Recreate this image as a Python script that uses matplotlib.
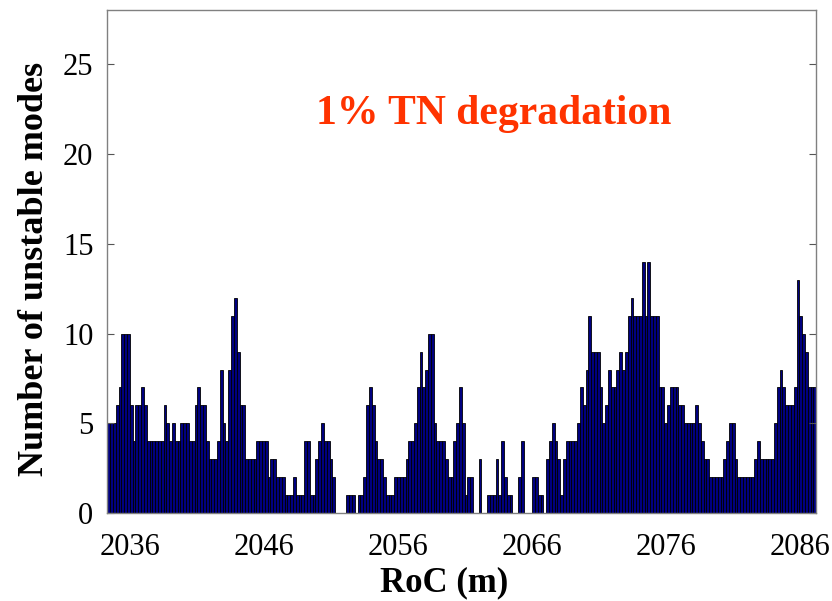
import numpy as np
import matplotlib
matplotlib.use("Agg")
import matplotlib.pyplot as plt

matplotlib.rcParams['font.family'] = ['Liberation Serif', 'DejaVu Serif']

# number of unstable modes for each RoC step (1% TN degradation)
modes = [
    5, 5, 5, 6, 7, 10, 10, 10, 6, 4, 6, 6, 7, 6, 4, 4, 4, 4, 4, 4, 6, 5, 4, 5, 4, 4, 5, 5, 5, 4, 4, 6, 7,
    6, 6, 4, 3, 3, 3, 4, 8, 5, 4, 8, 11, 12, 9, 6, 6, 3, 3, 3, 3, 4, 4, 4, 4, 2, 3, 3, 2, 2, 2,
    1, 1, 1, 2, 1, 1, 1, 4, 4, 1, 1, 3, 4, 5, 4, 4, 3, 2, 0, 0, 0, 0, 1, 1, 1, 0, 1, 1, 2, 6, 7, 6, 4, 3,
    3, 2, 1, 1, 1, 2, 2, 2, 2, 3, 4, 4, 5, 7, 9, 7, 8, 10, 10, 5, 4, 4, 4, 3, 2, 2, 4, 5, 7, 5, 1, 2,
    2, 0, 0, 3, 0, 0, 1, 1, 1, 3, 1, 4, 2, 1, 1, 0, 0, 2, 4, 0, 0, 0, 2, 2, 1, 1, 0, 3, 4, 5, 4, 3, 1,
    3, 4, 4, 4, 4, 5, 7, 6, 8, 11, 9, 9, 9, 7, 5, 6, 8, 7, 7, 8, 9, 8, 9, 11, 12, 11, 11, 11, 14, 11, 14,
    11, 11, 11, 7, 7, 5, 6, 7, 7, 7, 6, 6, 5, 5, 5, 5, 6, 5, 4, 3, 3, 2, 2, 2, 2, 2, 3, 4, 5, 5, 3,
    2, 2, 2, 2, 2, 2, 3, 4, 3, 3, 3, 3, 3, 5, 7, 8, 7, 6, 6, 6, 7, 13, 11, 10, 9, 7, 7, 7,
]
roc_start = 2034.4
roc_step = 0.21
roc = roc_start + roc_step * np.arange(len(modes))

xticks = [2036, 2046, 2056, 2066, 2076, 2086]
yticks = [0, 5, 10, 15, 20, 25]

fig = plt.figure(figsize=(8.32, 6.01), dpi=100)
ax = fig.add_axes([0.129, 0.146, 0.852, 0.837])

ax.bar(roc, modes, width=roc_step, color='#00007f', edgecolor='black', linewidth=0.6)

ax.set_xlim(roc[0] - roc_step / 2, roc[-1] + roc_step / 2)
ax.set_ylim(0, 28)
ax.set_xticks(xticks)
ax.set_xticklabels([str(t) for t in xticks])
ax.set_yticks(yticks)
ax.tick_params(axis='both', direction='in', labelsize=22, length=5, color='#555555')
ax.tick_params(axis='x', length=0, pad=14)
ax.tick_params(axis='y', right=True, pad=10)

for s in ax.spines.values():
    s.set_color('#808080')
    s.set_linewidth(1.0)

ax.set_xlabel('RoC (m)', fontsize=25, fontweight='bold')
ax.xaxis.set_label_coords(0.475, -0.106)
ax.set_ylabel('Number of unstable modes', fontsize=26, fontweight='bold')
ax.yaxis.set_label_coords(-0.08, 0.485)

ax.text(0.545, 0.793, '1% TN degradation', transform=ax.transAxes, ha='center', va='center',
        fontsize=30, fontweight='bold', color='#ff3300')

fig.savefig('out.png', dpi=100)
